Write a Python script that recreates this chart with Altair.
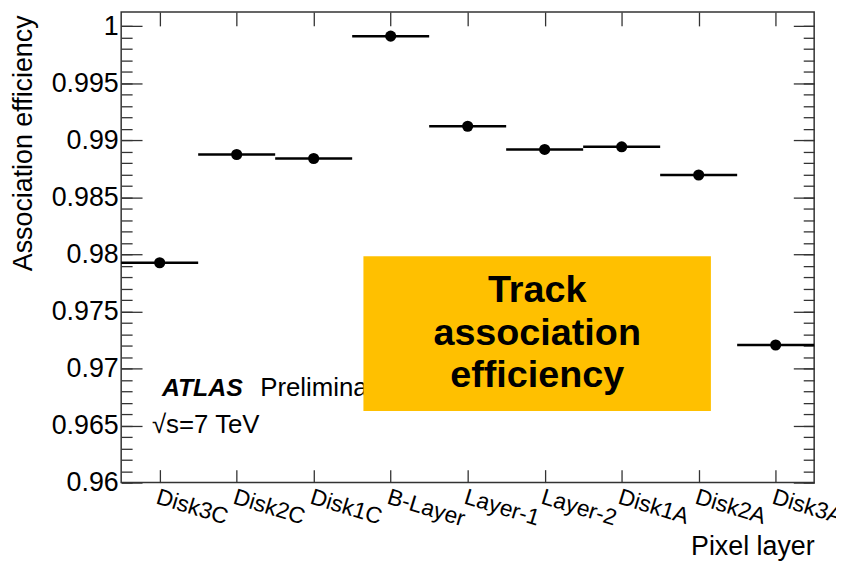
import json
import altair as alt
import pandas as pd

categories = ["Disk3C", "Disk2C", "Disk1C", "B-Layer", "Layer-1", "Layer-2", "Disk1A", "Disk2A", "Disk3A"]
efficiency = [0.97927, 0.98876, 0.98841, 0.99913, 0.99123, 0.98920, 0.98943, 0.98696, 0.97206]

y_min, y_max = 0.96, 1.00125
major_ticks = [0.96, 0.965, 0.97, 0.975, 0.98, 0.985, 0.99, 0.995, 1.0]
minor_ticks = [round(0.96 + 0.001 * i, 3) for i in range(41)]

W, H = 698, 474
FONT = "Liberation Sans"
FRAME = "#333333"

df = pd.DataFrame({
    "idx": list(range(len(categories))),
    "layer": categories,
    "eff": efficiency,
})
df["lo"] = df["idx"] - 0.5
df["hi"] = df["idx"] + 0.5

labels_js = json.dumps(categories)
xscale = alt.Scale(domain=[-0.5, len(categories) - 0.5], nice=False, zero=False)
yscale = alt.Scale(domain=[y_min, y_max], nice=False, zero=False)

base = alt.Chart(df)

NOAXIS = dict(labels=False, domain=False, grid=False, title=None)


def axis_layer(x_axis, y_axis):
    return base.mark_point(opacity=0).encode(
        x=alt.X("idx:Q", scale=xscale, axis=x_axis),
        y=alt.Y("eff:Q", scale=yscale, axis=y_axis),
    )


# main labelled axes (no ticks)
main_axes = axis_layer(
    alt.Axis(
        values=list(range(len(categories))),
        labelExpr=f"{labels_js}[datum.value]",
        labelAngle=17, labelAlign="left", labelBaseline="top",
        labelFont=FONT, labelFontSize=23, labelColor="black", labelPadding=3,
        ticks=False, domain=False, grid=False, labelOverlap=False,
        title="Pixel layer", titleFont=FONT, titleFontSize=27, titleFontWeight="normal",
        titleColor="black", titleAnchor="end", titleAlign="right", titleBaseline="alphabetic",
        titleX=W, titleY=72, orient="bottom",
    ),
    alt.Axis(
        values=major_ticks, format="~g",
        labelFont=FONT, labelFontSize=27, labelColor="black", labelPadding=3,
        ticks=False, domain=False, grid=False, labelOverlap=False,
        title="Association efficiency", titleFont=FONT, titleFontSize=27, titleFontWeight="normal",
        titleColor="black", titleAngle=-90, titleAlign="right", titleBaseline="alphabetic",
        titleX=-90, titleY=3, orient="left",
    ),
)

# inward ticks: bottom edge (x top-orient shifted down), left edge major
ticks_bl_major = axis_layer(
    alt.Axis(orient="top", offset=-H, values=list(range(len(categories))),
             ticks=True, tickSize=13, tickColor=FRAME, tickWidth=1.3, **NOAXIS),
    alt.Axis(orient="right", offset=-W, values=major_ticks,
             ticks=True, tickSize=21, tickColor=FRAME, tickWidth=1.3, **NOAXIS),
)
ticks_tr_major = axis_layer(
    alt.Axis(orient="bottom", offset=-H, values=list(range(len(categories))),
             ticks=True, tickSize=14, tickColor=FRAME, tickWidth=1.3, **NOAXIS),
    alt.Axis(orient="left", offset=-W, values=major_ticks,
             ticks=True, tickSize=21, tickColor=FRAME, tickWidth=1.3, **NOAXIS),
)
ticks_l_minor = axis_layer(
    alt.Axis(orient="top", offset=-H, values=[0], ticks=False, **NOAXIS),
    alt.Axis(orient="right", offset=-W, values=minor_ticks,
             ticks=True, tickSize=11, tickColor=FRAME, tickWidth=1.3, **NOAXIS),
)
ticks_r_minor = axis_layer(
    alt.Axis(orient="bottom", offset=-H, values=[0], ticks=False, **NOAXIS),
    alt.Axis(orient="left", offset=-W, values=minor_ticks,
             ticks=True, tickSize=11, tickColor=FRAME, tickWidth=1.3, **NOAXIS),
)

bars = base.mark_rule(color="black", strokeWidth=2.5).encode(
    x=alt.X("lo:Q", scale=xscale, axis=None),
    x2="hi:Q",
    y=alt.Y("eff:Q", scale=yscale, axis=None),
)
dots = base.mark_circle(color="black", opacity=1, size=125).encode(
    x=alt.X("idx:Q", scale=xscale, axis=None),
    y=alt.Y("eff:Q", scale=yscale, axis=None),
)

atlas = alt.Chart(pd.DataFrame({"t": ["ATLAS"]})).mark_text(
    font=FONT, fontSize=25, fontWeight="bold", fontStyle="italic",
    align="left", baseline="alphabetic", color="black",
).encode(text="t:N", x=alt.value(41), y=alt.value(387))
prelim = alt.Chart(pd.DataFrame({"t": ["Preliminary"]})).mark_text(
    font=FONT, fontSize=26, align="left", baseline="alphabetic", color="black",
).encode(text="t:N", x=alt.value(140), y=alt.value(387))
energy = alt.Chart(pd.DataFrame({"t": ["\u221as=7 TeV"]})).mark_text(
    font=FONT, fontSize=26, align="left", baseline="alphabetic", color="black",
).encode(text="t:N", x=alt.value(31), y=alt.value(424))

box = alt.Chart(pd.DataFrame({"a": [0]})).mark_rect(color="#FFC000").encode(
    x=alt.value(244), x2=alt.value(594), y=alt.value(246), y2=alt.value(402)
)
box_lines = ["Track", "association", "efficiency"]
box_text = [
    alt.Chart(pd.DataFrame({"t": [line]})).mark_text(
        font=FONT, fontSize=38, fontWeight="bold", align="center",
        baseline="alphabetic", color="black",
    ).encode(text="t:N", x=alt.value(419), y=alt.value(292 + 43 * i))
    for i, line in enumerate(box_lines)
]

chart = alt.layer(
    main_axes, ticks_bl_major, ticks_tr_major, ticks_l_minor, ticks_r_minor,
    atlas, prelim, energy, box, *box_text, bars, dots,
).resolve_axis(x="independent", y="independent").properties(
    width=W, height=H,
    autosize=alt.AutoSizeParams(type="none"),
    padding={"left": 114, "top": 2, "right": 22, "bottom": 77},
).configure_view(stroke=FRAME, strokeWidth=1.5)

chart.save("out.html", embed_options={"renderer": "svg", "actions": False})
